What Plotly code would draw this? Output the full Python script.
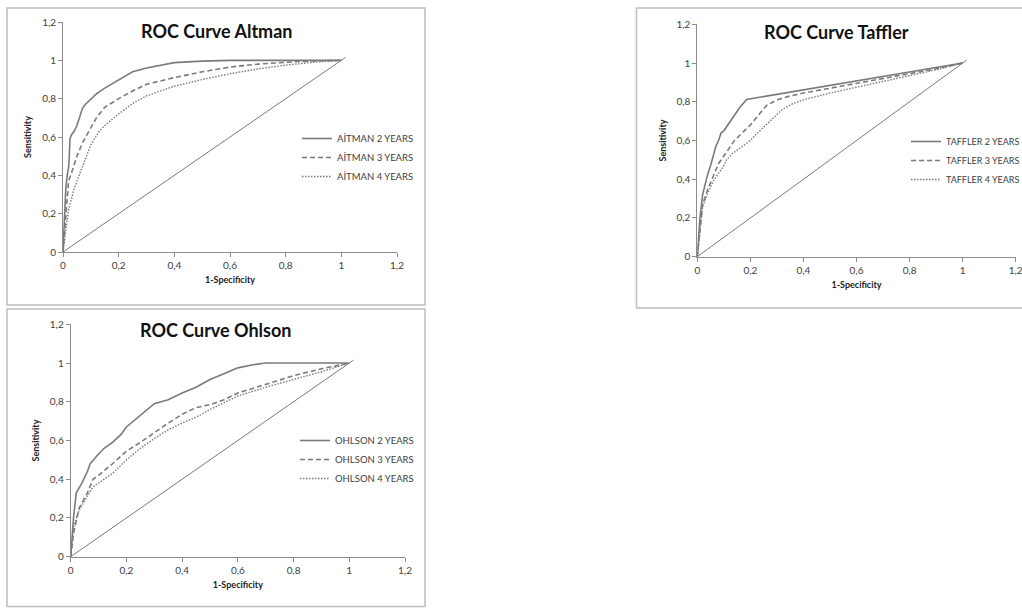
import plotly.graph_objects as go

# ---------------- data ----------------
altman2_x = [0, 0.005, 0.01, 0.015, 0.02, 0.022, 0.025, 0.03, 0.04, 0.05, 0.06, 0.07, 0.08, 0.1, 0.12, 0.15, 0.18, 0.2, 0.22, 0.25, 0.3, 0.35, 0.4, 0.5, 0.6, 0.8, 1.0]
altman2_y = [0, 0.2, 0.33, 0.4, 0.44, 0.48, 0.59, 0.61, 0.63, 0.66, 0.71, 0.75, 0.77, 0.8, 0.825, 0.855, 0.88, 0.9, 0.915, 0.94, 0.96, 0.975, 0.988, 0.996, 1.0, 1.0, 1.0]

altman3_x = [0, 0.005, 0.01, 0.02, 0.03, 0.05, 0.07, 0.1, 0.12, 0.15, 0.2, 0.25, 0.3, 0.4, 0.5, 0.6, 0.7, 0.8, 0.9, 1.0]
altman3_y = [0, 0.1, 0.2, 0.37, 0.41, 0.5, 0.57, 0.65, 0.7, 0.755, 0.8, 0.84, 0.875, 0.91, 0.94, 0.965, 0.98, 0.99, 0.997, 1.0]

altman4_x = [0, 0.01, 0.02, 0.04, 0.07, 0.1, 0.13, 0.15, 0.2, 0.25, 0.3, 0.4, 0.5, 0.6, 0.7, 0.8, 0.9, 1.0]
altman4_y = [0, 0.12, 0.22, 0.33, 0.45, 0.56, 0.63, 0.66, 0.72, 0.775, 0.815, 0.865, 0.9, 0.93, 0.955, 0.975, 0.99, 1.0]

ohlson2_x = [0, 0.005, 0.01, 0.02, 0.04, 0.06, 0.07, 0.1, 0.12, 0.15, 0.18, 0.2, 0.25, 0.3, 0.35, 0.4, 0.45, 0.5, 0.55, 0.6, 0.65, 0.7, 0.8, 1.0]
ohlson2_y = [0, 0.12, 0.2, 0.33, 0.38, 0.44, 0.48, 0.53, 0.56, 0.59, 0.63, 0.67, 0.73, 0.79, 0.81, 0.845, 0.875, 0.915, 0.945, 0.975, 0.99, 1.0, 1.0, 1.0]

ohlson3_x = [0, 0.01, 0.03, 0.06, 0.08, 0.1, 0.15, 0.2, 0.25, 0.3, 0.35, 0.4, 0.45, 0.5, 0.55, 0.6, 0.7, 0.8, 0.9, 1.0]
ohlson3_y = [0, 0.12, 0.25, 0.33, 0.4, 0.42, 0.48, 0.545, 0.59, 0.64, 0.69, 0.735, 0.77, 0.785, 0.81, 0.845, 0.89, 0.935, 0.97, 1.0]

ohlson4_x = [0, 0.01, 0.03, 0.06, 0.08, 0.1, 0.15, 0.2, 0.25, 0.3, 0.35, 0.4, 0.45, 0.5, 0.6, 0.7, 0.8, 0.9, 1.0]
ohlson4_y = [0, 0.15, 0.24, 0.31, 0.36, 0.38, 0.43, 0.5, 0.56, 0.61, 0.655, 0.69, 0.72, 0.76, 0.83, 0.875, 0.915, 0.955, 1.0]

taffler2_x = [0, 0.01, 0.02, 0.03, 0.04, 0.05, 0.06, 0.07, 0.08, 0.09, 0.1, 0.12, 0.14, 0.16, 0.186, 1.0]
taffler2_y = [0, 0.2, 0.32, 0.38, 0.43, 0.47, 0.52, 0.57, 0.6, 0.64, 0.65, 0.69, 0.73, 0.77, 0.812, 1.0]

taffler3_x = [0, 0.01, 0.02, 0.04, 0.06, 0.08, 0.1, 0.12, 0.14, 0.17, 0.2, 0.23, 0.26, 0.3, 0.35, 0.4, 0.5, 0.6, 0.7, 0.8, 0.9, 1.0]
taffler3_y = [0, 0.15, 0.27, 0.35, 0.42, 0.48, 0.52, 0.56, 0.6, 0.64, 0.68, 0.73, 0.78, 0.81, 0.83, 0.845, 0.87, 0.895, 0.92, 0.945, 0.97, 1.0]

taffler4_x = [0, 0.01, 0.02, 0.04, 0.06, 0.08, 0.1, 0.11, 0.13, 0.16, 0.2, 0.22, 0.25, 0.28, 0.32, 0.36, 0.4, 0.5, 0.6, 0.7, 0.8, 0.9, 1.0]
taffler4_y = [0, 0.13, 0.26, 0.33, 0.39, 0.43, 0.47, 0.5, 0.53, 0.56, 0.6, 0.63, 0.67, 0.71, 0.76, 0.79, 0.81, 0.845, 0.875, 0.905, 0.935, 0.965, 1.0]

diag_x = [0, 1.015]
diag_y = [0, 1.015]

tick_vals = [0, 0.2, 0.4, 0.6, 0.8, 1.0, 1.2]
tick_text = ["0", "0,2", "0,4", "0,6", "0,8", "1", "1,2"]

titles = ["ROC Curve Altman", "ROC Curve Ohlson", "ROC Curve Taffler"]
legend_names = [
    ["AİTMAN 2 YEARS", "AİTMAN 3 YEARS", "AİTMAN 4 YEARS"],
    ["OHLSON 2 YEARS", "OHLSON 3 YEARS", "OHLSON 4 YEARS"],
    ["TAFFLER 2 YEARS", "TAFFLER 3 YEARS", "TAFFLER 4 YEARS"],
]
x_title = "1-Specificity"
y_title = "Sensitivity"

# ---------------- styling ----------------
W, H = 1022, 608
FONT = "Lato"
LINE_COL = "#7a7a7a"
AXIS_COL = "#8c8c8c"
TEXT_COL = "#404040"
dashes = ["solid", "5px,3px", "1.5px,1.5px"]

def fx(px):
    return px / W

def fy(py):
    return 1 - py / H

# plot areas in pixels: (x0, x1, ytop, ybottom)
plots = [
    (63, 397, 22, 252),      # Altman
    (70.7, 405, 324.3, 556.7),  # Ohlson
    (697.3, 1015.7, 24.3, 256.7),  # Taffler
]
boxes = [
    (7, 8, 425, 305),
    (7, 309, 425, 606.5),
    (636.5, 8, 1040, 308),
]
title_pos = [(216, 31), (216, 330), (836, 32)]
legend_pos = [(297, 124), (295, 426), (906, 127)]
legend_font = [9.5, 9.5, 9]

series = [
    [(altman2_x, altman2_y), (altman3_x, altman3_y), (altman4_x, altman4_y)],
    [(ohlson2_x, ohlson2_y), (ohlson3_x, ohlson3_y), (ohlson4_x, ohlson4_y)],
    [(taffler2_x, taffler2_y), (taffler3_x, taffler3_y), (taffler4_x, taffler4_y)],
]

fig = go.Figure()
layout = dict(
    width=W, height=H, margin=dict(l=0, r=0, t=0, b=0, autoexpand=False),
    paper_bgcolor="white", plot_bgcolor="white",
    font=dict(family=FONT, size=10, color=TEXT_COL),
    showlegend=True,
)
annotations = []
shapes = []

for i in range(3):
    sfx = "" if i == 0 else str(i + 1)
    xa, ya = "x" + sfx, "y" + sfx
    lg = "legend" if i == 0 else "legend" + str(i + 1)
    for k, (xs, ys) in enumerate(series[i]):
        fig.add_trace(go.Scatter(
            x=xs, y=ys, mode="lines", name=legend_names[i][k],
            legendgroup="g%d_%d" % (i, k),
            line=dict(color=LINE_COL, width=1.6 if k < 2 else 1.4, dash=dashes[k]),
            xaxis=xa, yaxis=ya, legend=lg, hoverinfo="skip",
        ))
    fig.add_trace(go.Scatter(
        x=diag_x, y=diag_y, mode="lines", showlegend=False,
        line=dict(color=LINE_COL, width=1), xaxis=xa, yaxis=ya, hoverinfo="skip",
    ))
    x0, x1, yt, yb = plots[i]
    axis_common = dict(
        range=[0, 1.2], tickvals=tick_vals, ticktext=tick_text,
        showgrid=False, zeroline=False, showline=True, linecolor=AXIS_COL, linewidth=1,
        ticks="outside", ticklen=4, tickcolor=AXIS_COL, tickwidth=1,
        tickfont=dict(family=FONT, size=10, color=TEXT_COL), fixedrange=True,
        automargin=False, ticklabeloverflow="allow",
    )
    layout["xaxis" + sfx] = dict(
        axis_common, domain=[fx(x0), fx(x1)], anchor=ya,
        title=dict(text="<b>" + x_title + "</b>", font=dict(family=FONT, size=9, color="#222"), standoff=6),
    )
    layout["yaxis" + sfx] = dict(
        axis_common, domain=[fy(yb), fy(yt)], anchor=xa,
        title=dict(text="<b>" + y_title + "</b>", font=dict(family=FONT, size=9, color="#222"), standoff=8),
    )
    lx, ly = legend_pos[i]
    layout[lg] = dict(
        x=fx(lx), y=fy(ly), xanchor="left", yanchor="top",
        bgcolor="rgba(0,0,0,0)", borderwidth=0,
        font=dict(family=FONT, size=legend_font[i], color=TEXT_COL),
        itemwidth=30, tracegroupgap=0,
    )
    tx, ty = title_pos[i]
    annotations.append(dict(
        text="<b>" + titles[i] + "</b>", x=fx(tx), y=fy(ty), xref="paper", yref="paper",
        xanchor="center", yanchor="middle", showarrow=False,
        font=dict(family=FONT, size=18, color="#111"),
    ))
    bx0, by0, bx1, by1 = boxes[i]
    shapes.append(dict(
        type="rect", xref="paper", yref="paper",
        x0=fx(bx0), x1=fx(bx1), y0=fy(by1), y1=fy(by0),
        line=dict(color="#bdbdbd", width=1.5), fillcolor="rgba(0,0,0,0)", layer="below",
    ))

layout["annotations"] = annotations
layout["shapes"] = shapes
fig.update_layout(**layout)
fig.write_html(
    "out.html",
    config={"displayModeBar": False},
    post_script="document.body.style.margin='0';document.body.style.overflow='hidden';",
)
